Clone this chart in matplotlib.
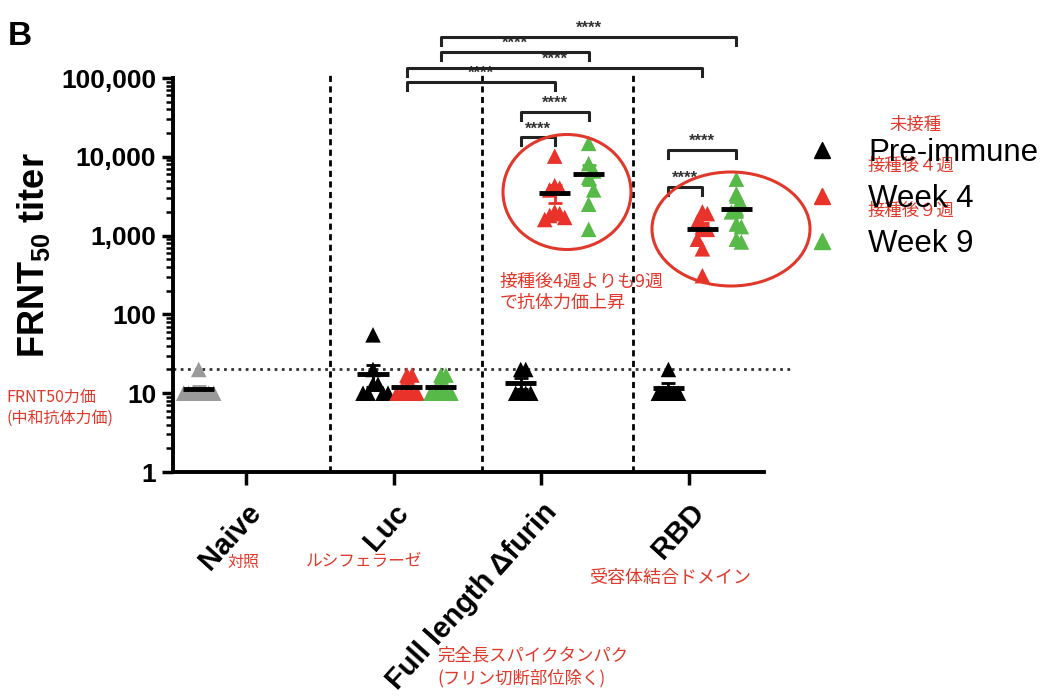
import numpy as np
import matplotlib.pyplot as plt
from matplotlib.lines import Line2D
from matplotlib.patches import Ellipse
from matplotlib.ticker import FuncFormatter, LogLocator

plt.rcParams['font.family'] = ['Liberation Sans', 'DejaVu Sans']
plt.rcParams['mathtext.fontset'] = 'custom'
plt.rcParams['mathtext.rm'] = 'Liberation Sans'
plt.rcParams['mathtext.bf'] = 'Liberation Sans:bold'

# data (FRNT50 titers per animal)
groups = ['Naive', 'Luc', 'Full length \u0394furin', 'RBD']
series = ['Pre-immune', 'Week 4', 'Week 9']

naive = [10, 10, 10, 10, 10, 10, 10, 20]
luc_pre = [55, 20, 13, 13, 10, 10, 10, 10]
luc_wk4 = [17, 17, 10, 10, 10, 10, 10]
luc_wk9 = [17, 17, 10, 10, 10, 10, 10]
full_pre = [20, 20, 10, 10, 10, 10]
full_wk4 = [10200, 4300, 4000, 3800, 2000, 1900, 1800, 1700, 1600]
full_wk9 = [14800, 8200, 6600, 5500, 3800, 2500, 1200]
rbd_pre = [20, 10, 10, 10, 10, 10]
rbd_wk4 = [2000, 1900, 1500, 1300, 1200, 900, 680, 310]
rbd_wk9 = [5200, 3400, 2500, 2200, 2000, 1400, 1300, 900, 830]

cutoff = 20

# significance comparisons (column a, column b)
comparisons = [
    (('Luc', 2), ('RBD', 2)),
    (('Luc', 2), ('Full', 2)),
    (('Luc', 1), ('RBD', 1)),
    (('Luc', 1), ('Full', 1)),
    (('Full', 0), ('Full', 2)),
    (('Full', 0), ('Full', 1)),
    (('RBD', 0), ('RBD', 2)),
    (('RBD', 0), ('RBD', 1)),
]
bracket_levels = [5.52, 5.33, 5.13, 4.95, 4.57, 4.25, 4.09, 3.62]

red_jp = '#e0392b'
colours = ['black', '#e8322a', '#57b947']
offsets = [-0.14, 0.09, 0.32]

columns = {
    ('Luc', 0): (1, luc_pre), ('Luc', 1): (1, luc_wk4), ('Luc', 2): (1, luc_wk9),
    ('Full', 0): (2, full_pre), ('Full', 1): (2, full_wk4), ('Full', 2): (2, full_wk9),
    ('RBD', 0): (3, rbd_pre), ('RBD', 1): (3, rbd_wk4), ('RBD', 2): (3, rbd_wk9),
}


def col_x(key):
    return columns[key][0] + offsets[key[1]]


def swarm(vals, center):
    # spread overlapping triangles sideways (rough pixel units)
    placed = []
    xs = []
    steps = [0, 5, -5, 10, -10, 15, -15, 20, -20]
    for v in vals:
        y = np.log10(v) * 78.8
        for off in steps:
            if all(abs(off - px) >= 5 or abs(y - py) >= 13 for px, py in placed):
                break
        placed.append((off, y))
        xs.append(center + off / 147.7)
    return np.array(xs)


fig = plt.figure(figsize=(10.44, 7), dpi=100)
ax = fig.add_axes([173 / 1044, 1 - 472 / 700, 591 / 1044, 394 / 700])


def draw_column(x0, vals, colour, mean_colour='black'):
    vals = np.array(vals, dtype=float)
    xs = swarm(vals, x0)
    ax.scatter(xs, vals, marker='^', s=125, color=colour, edgecolors='none',
               zorder=3, clip_on=False)
    m = vals.mean()
    sem = vals.std(ddof=1) / np.sqrt(len(vals))
    ax.errorbar([x0], [m], yerr=[[sem], [sem]], color=mean_colour if colour == 'black' else colour,
                capsize=5, elinewidth=2, capthick=2, zorder=4, fmt='none')
    ax.plot([x0 - 0.105, x0 + 0.105], [m, m], color=mean_colour, lw=3.5,
            solid_capstyle='butt', zorder=5)


draw_column(-0.32, naive, '#9a9a9a')
for key, (gi, vals) in columns.items():
    draw_column(col_x(key), vals, colours[key[1]])

ax.set_yscale('log')
ax.set_ylim(1, 1e5)
ax.set_xlim(-0.494, 3.507)
ax.yaxis.set_major_formatter(FuncFormatter(lambda v, p: f'{int(v):,}'))
ax.yaxis.set_minor_locator(LogLocator(base=10, subs=np.arange(2, 10)))
ax.yaxis.set_minor_formatter(FuncFormatter(lambda v, p: ''))

ax.set_xticks(range(len(groups)))
ax.set_xticklabels(groups, rotation=48, ha='right', va='top', rotation_mode='anchor',
                   fontsize=21, fontweight='bold')
for lab in ax.get_yticklabels():
    lab.set_fontsize(19)
    lab.set_fontweight('bold')

for s in ['top', 'right']:
    ax.spines[s].set_visible(False)
for s in ['left', 'bottom']:
    ax.spines[s].set_linewidth(2.8)
ax.tick_params(axis='y', which='major', length=8, width=2.5, pad=4)
ax.tick_params(axis='y', which='minor', length=5, width=1.8)
ax.tick_params(axis='x', which='major', length=9, width=2.5, pad=10)

ax.set_ylabel(r'FRNT$_\mathbf{50}$ titer', fontsize=26, fontweight='bold')
ax.yaxis.set_label_coords(-0.205, 0.55)

# group separators and detection limit
for xd in [0.57, 1.60, 2.62]:
    ax.axvline(xd, ymin=0, ymax=1.01, color='black', lw=2, ls=(0, (2.2, 1.6)),
               clip_on=False, zorder=1)
ax.plot([-0.494, 3.68], [cutoff, cutoff], color='#333333', lw=2, ls=(0, (1, 1.6)),
        clip_on=False, zorder=1)

# significance brackets
for (a, b), lev in zip(comparisons, bracket_levels):
    xa, xb = col_x(a), col_x(b)
    ytop = 10 ** lev
    ylow = 10 ** (lev - 0.1)
    ax.plot([xa, xa, xb, xb], [ylow, ytop, ytop, ylow], color='#222222', lw=2.2,
            clip_on=False, zorder=6)
    ax.text((xa + xb) / 2, 10 ** (lev + 0.01), '****', ha='center', va='bottom',
            fontsize=12, fontweight='bold', color='#333333', clip_on=False)

# legend
handles = [Line2D([], [], marker='^', ls='none', color=c, markersize=11) for c in colours]
fig.legend(handles, series, loc='upper left', bbox_to_anchor=(806 / 1044, 1 - 138 / 700),
           frameon=False, fontsize=22.5, handlelength=1.0, handletextpad=1.0,
           labelspacing=0.5, borderpad=0, borderaxespad=0)

fig.text(8 / 1044, 1 - 45 / 700, 'B', fontsize=24, fontweight='bold', va='baseline')

# red Japanese annotations
jp = ['Noto Sans CJK JP', 'DejaVu Sans']
fig.text(915 / 1044, 1 - 125 / 700, '未接種', color=red_jp, fontsize=12.5, family=jp,
         ha='center', va='center')
fig.text(868 / 1044, 1 - 166 / 700, '接種後４週', color=red_jp, fontsize=12.5, family=jp,
         ha='left', va='center')
fig.text(868 / 1044, 1 - 211 / 700, '接種後９週', color=red_jp, fontsize=12.5, family=jp,
         ha='left', va='center')
fig.text(6 / 1044, 1 - 408 / 700, 'FRNT50力価\n(中和抗体力価)', color=red_jp, fontsize=11.5,
         family=jp, ha='left', va='center', linespacing=1.3)
fig.text(243 / 1044, 1 - 562 / 700, '対照', color=red_jp, fontsize=11.5, family=jp,
         ha='center', va='center')
fig.text(364 / 1044, 1 - 562 / 700, 'ルシフェラーゼ', color=red_jp, fontsize=12, family=jp,
         ha='center', va='center')
fig.text(500 / 1044, 1 - 292 / 700, '接種後4週よりも9週\nで抗体力価上昇', color=red_jp,
         fontsize=13, family=jp, ha='left', va='center', linespacing=1.2)
fig.text(670 / 1044, 1 - 578 / 700, '受容体結合ドメイン', color=red_jp, fontsize=13, family=jp,
         ha='center', va='center')
fig.text(437 / 1044, 1 - 667 / 700, '完全長スパイクタンパク\n(フリン切断部位除く)', color=red_jp,
         fontsize=12.5, family=jp, ha='left', va='center', linespacing=1.3)

for cx, cy, w, h in [(567, 192, 128, 115), (731, 229, 158, 114)]:
    fig.add_artist(Ellipse((cx / 1044, 1 - cy / 700), w / 1044, h / 700,
                           transform=fig.transFigure, fill=False, color=red_jp, lw=2.2))

fig.savefig('out.png', dpi=100)
